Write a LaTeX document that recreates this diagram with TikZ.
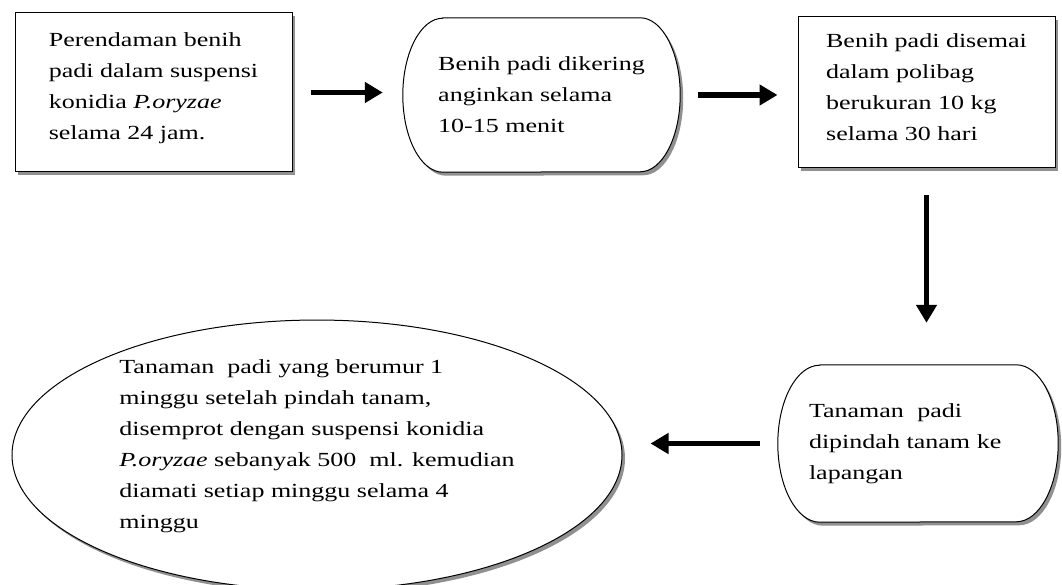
\documentclass[tikz,border=0pt]{standalone}
\usepackage{fontspec}
\setmainfont[FakeStretch=1.3]{Liberation Serif}
\usetikzlibrary{
  arrows.meta,
  shapes.geometric,
  shadows,
  backgrounds
}
\tikzset{
  boxshadow/.style={
    drop shadow={shadow xshift=3pt, shadow yshift=-3.5pt, fill=gray!55!black!60, opacity=1}
  },
  proctext/.style={
    align=left,
    inner sep=0pt,
    font=\fontsize{20pt}{31pt}\selectfont
  },
  procbox/.style={
    proctext,
    draw,
    line width=1pt,
    fill=white,
    boxshadow
  },
  capsule/.style={
    draw,
    line width=1pt,
    fill=white,
    boxshadow
  },
  flow/.style={
    line width=5.5pt,
    -{Triangle[length=18pt,width=20pt]}
  }
}

\begin{document}
\begin{tikzpicture}[x=1pt, y=-1pt]
  \useasboundingbox (0,0) rectangle (1062,585);

  \node[procbox, minimum width=277pt, minimum height=159pt, text depth=12pt] (soak) at (153.5,92.5)
    {Perendaman benih\\padi dalam suspensi\\konidia \textit{P.oryzae}\\selama 24 jam.};
  \node[proctext, minimum width=277pt, minimum height=154pt] (dry) at (541.5,95)
    {Benih padi dikering\\anginkan selama\\10-15 menit};
  \node[procbox, minimum width=257pt, minimum height=151pt, text depth=10pt] (seed) at (926.5,92.5)
    {Benih padi disemai\\dalam polibag\\berukuran 10 kg\\selama 30 hari};
  \node[proctext, minimum width=280pt, minimum height=157pt, inner xsep=0pt, text width=218pt] (move) at (918,443.5)
    {Tanaman~ padi\\dipindah tanam ke\\lapangan};
  \node[procbox, ellipse, minimum width=610pt, minimum height=256pt, text depth=22pt] (spray) at (317,455)
    {Tanaman~ padi yang berumur 1\\minggu setelah pindah tanam,\\disemprot dengan suspensi konidia\\\textit{P.oryzae} sebanyak 500~ ml. kemudian\\diamati setiap minggu selama 4\\minggu};

  \begin{scope}[on background layer]
    \draw[capsule] ([xshift=40pt]dry.north west) -- ([xshift=-40pt]dry.north east)
      arc[start angle=90, end angle=-90, x radius=40pt, y radius=77pt]
      -- ([xshift=40pt]dry.south west)
      arc[start angle=270, end angle=90, x radius=40pt, y radius=77pt] -- cycle;
    \draw[capsule] ([xshift=42pt]move.north west) -- ([xshift=-42pt]move.north east)
      arc[start angle=90, end angle=-90, x radius=42pt, y radius=78.5pt]
      -- ([xshift=42pt]move.south west)
      arc[start angle=270, end angle=90, x radius=42pt, y radius=78.5pt] -- cycle;
  \end{scope}

  \draw[flow, shorten <=18pt, shorten >=20pt] (soak.east) -- (soak.east -| dry.west);
  \draw[flow, shorten <=18pt, shorten >=20pt] (dry.east) -- (dry.east -| seed.west);
  \draw[flow, shorten <=27pt, shorten >=42pt] (seed.south) -- (seed.south |- move.north);
  \draw[flow, shorten <=18pt, shorten >=28pt] (move.west) -- (move.west -| spray.east);
\end{tikzpicture}
\end{document}
